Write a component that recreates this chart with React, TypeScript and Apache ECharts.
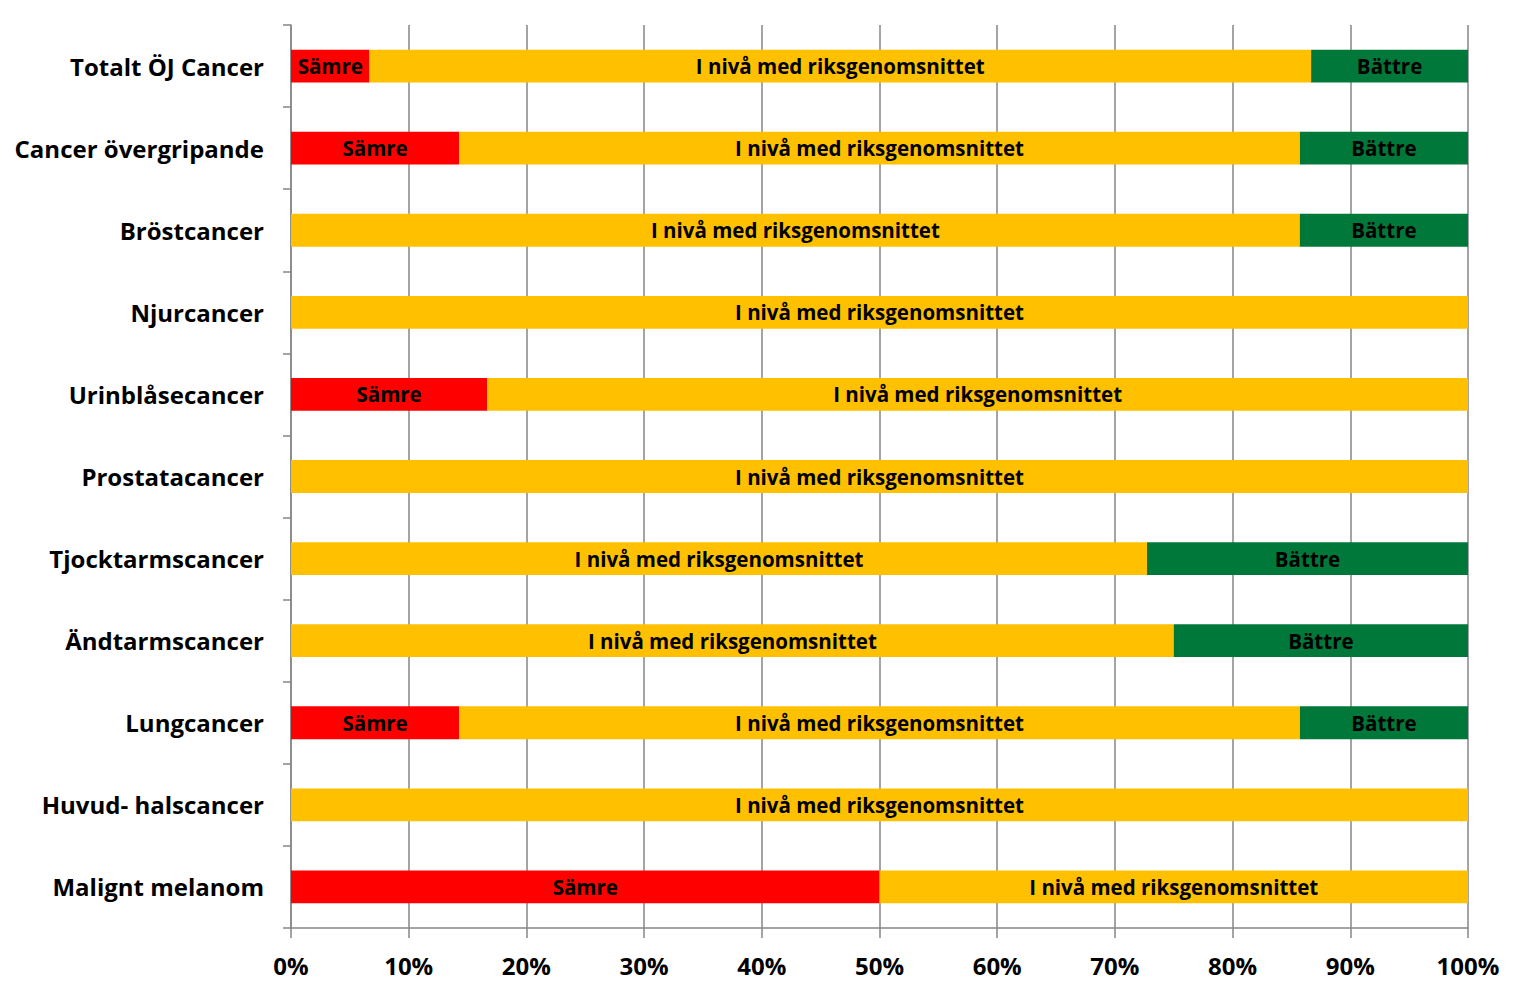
import React, { useEffect, useRef } from "react";
import * as echarts from "echarts";

const categories = [
  "Totalt ÖJ Cancer",
  "Cancer övergripande",
  "Bröstcancer",
  "Njurcancer",
  "Urinblåsecancer",
  "Prostatacancer",
  "Tjocktarmscancer",
  "Ändtarmscancer",
  "Lungcancer",
  "Huvud- halscancer",
  "Malignt melanom",
];

const samre = [6.67, 14.29, 0, 0, 16.67, 0, 0, 0, 14.29, 0, 50];
const iNiva = [80, 71.43, 85.71, 100, 83.33, 100, 72.73, 75, 71.43, 100, 50];
const battre = [13.33, 14.29, 14.29, 0, 0, 0, 27.27, 25, 14.29, 0, 0];

const seriesNames = ["Sämre", "I nivå med riksgenomsnittet", "Bättre"];
const seriesColors = ["#FF0000", "#FFC000", "#00783A"];
const xTicks = [0, 10, 20, 30, 40, 50, 60, 70, 80, 90, 100];

const FONT = "'Open Sans', 'Noto Sans', sans-serif";

export default function App() {
  const ref = useRef<HTMLDivElement>(null);
  useEffect(() => {
    if (!ref.current) return;
    const chart = echarts.init(ref.current, undefined, { renderer: "svg" });
    const datasets = [samre, iNiva, battre];
    chart.setOption({
      animation: false,
      textStyle: { fontFamily: FONT },
      grid: { left: 291, right: 56, top: 25, bottom: 67, containLabel: false },
      xAxis: {
        type: "value",
        min: 0,
        max: 100,
        interval: 10,
        axisLine: { show: true, lineStyle: { color: "#868686", width: 1.5 } },
        axisTick: { show: true, length: 10, lineStyle: { color: "#868686", width: 1.5 } },
        splitLine: { show: true, lineStyle: { color: "#868686", width: 1.5 } },
        axisLabel: {
          margin: 25,
          color: "#000",
          fontSize: 24,
          fontWeight: "bold",
          fontFamily: FONT,
          formatter: (v: number) => (xTicks.includes(v) ? v + "%" : ""),
        },
      },
      yAxis: {
        type: "category",
        inverse: true,
        data: categories,
        axisLine: { show: true, lineStyle: { color: "#868686", width: 1.5 } },
        axisTick: { show: true, length: 8, lineStyle: { color: "#868686", width: 1.5 } },
        splitLine: { show: false },
        axisLabel: {
          margin: 27,
          color: "#000",
          fontSize: 24,
          fontWeight: "bold",
          fontFamily: FONT,
        },
      },
      series: datasets.map((d, i) => ({
        name: seriesNames[i],
        type: "bar",
        stack: "total",
        barWidth: "40%",
        itemStyle: { color: seriesColors[i] },
        label: {
          show: true,
          position: "inside",
          color: "#000",
          fontSize: 20.5,
          fontWeight: "bold",
          fontFamily: FONT,
          formatter: () => seriesNames[i],
        },
        data: d.map((v) => (v > 0 ? v : null)),
      })),
    });
    return () => chart.dispose();
  }, []);
  return (
    <div
      ref={ref}
      style={{ position: "fixed", left: 0, top: 0, width: 1524, height: 995, background: "#fff" }}
    />
  );
}
